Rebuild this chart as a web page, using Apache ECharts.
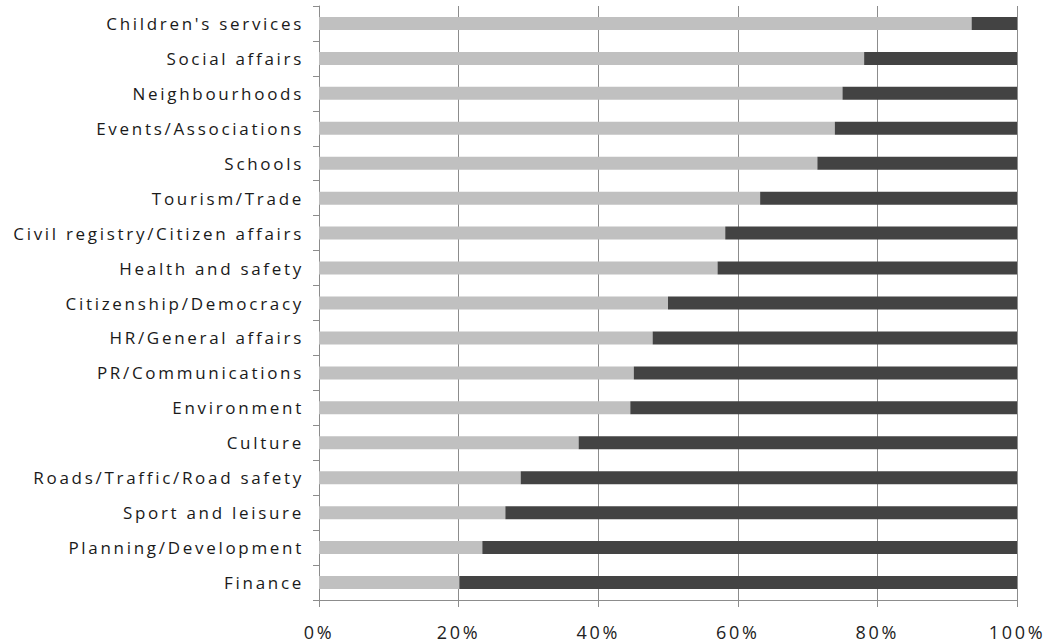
<!DOCTYPE html>
<html>
<head>
<meta charset="utf-8">
<script src="https://cdn.jsdelivr.net/npm/echarts@6/dist/echarts.min.js"></script>
<style>
  html, body { margin: 0; padding: 0; background: #ffffff; }
  #chart { width: 1052px; height: 644px; }
  /* airy, widely tracked axis lettering */
  #chart svg text { letter-spacing: 2.7px; }
</style>
</head>
<body>
<div id="chart"></div>
<script>
// Policy areas, top to bottom
const categories = [
  "Children's services",
  "Social affairs",
  "Neighbourhoods",
  "Events/Associations",
  "Schools",
  "Tourism/Trade",
  "Civil registry/Citizen affairs",
  "Health and safety",
  "Citizenship/Democracy",
  "HR/General affairs",
  "PR/Communications",
  "Environment",
  "Culture",
  "Roads/Traffic/Road safety",
  "Sport and leisure",
  "Planning/Development",
  "Finance"
];

// Share in percent (light segment)
const lightShare = [93.5, 78.1, 75.0, 73.9, 71.4, 63.2, 58.2, 57.1, 50.0, 47.8, 45.1, 44.6, 37.2, 28.9, 26.7, 23.4, 20.1];

// Remaining share in percent (dark segment)
const darkShare = [6.5, 21.9, 25.0, 26.1, 28.6, 36.8, 41.8, 42.9, 50.0, 52.2, 54.9, 55.4, 62.8, 71.1, 73.3, 76.6, 79.9];

const chart = echarts.init(document.getElementById('chart'), null, { renderer: 'svg' });

const fontFamily = "'Open Sans', 'DejaVu Sans', sans-serif";

chart.setOption({
  animation: false,
  backgroundColor: '#ffffff',
  grid: { left: 319, right: 35, top: 6, bottom: 44, containLabel: false },
  xAxis: {
    type: 'value',
    min: 0,
    max: 100,
    interval: 20,
    axisLine: { show: true, lineStyle: { color: '#8c8c8c', width: 1 } },
    axisTick: { show: true, length: 7, lineStyle: { color: '#8c8c8c' } },
    splitLine: { show: true, lineStyle: { color: '#8c8c8c', width: 1 } },
    axisLabel: {
      formatter: '{value}%',
      color: '#222222',
      fontFamily: fontFamily,
      fontSize: 18,
      margin: 23
    }
  },
  yAxis: {
    type: 'category',
    data: categories,
    inverse: true,
    axisLine: { show: true, lineStyle: { color: '#8c8c8c', width: 1 } },
    axisTick: { show: true, length: 6, lineStyle: { color: '#8c8c8c' } },
    axisLabel: {
      color: '#1a1a1a',
      fontFamily: fontFamily,
      fontSize: 17,
      margin: 15
    }
  },
  series: [
    {
      name: 'Share',
      type: 'bar',
      stack: 'total',
      barWidth: 13,
      itemStyle: { color: '#c0c0c0' },
      data: lightShare
    },
    {
      name: 'Remainder',
      type: 'bar',
      stack: 'total',
      barWidth: 13,
      itemStyle: { color: '#434343' },
      data: darkShare
    }
  ]
});
</script>
</body>
</html>
